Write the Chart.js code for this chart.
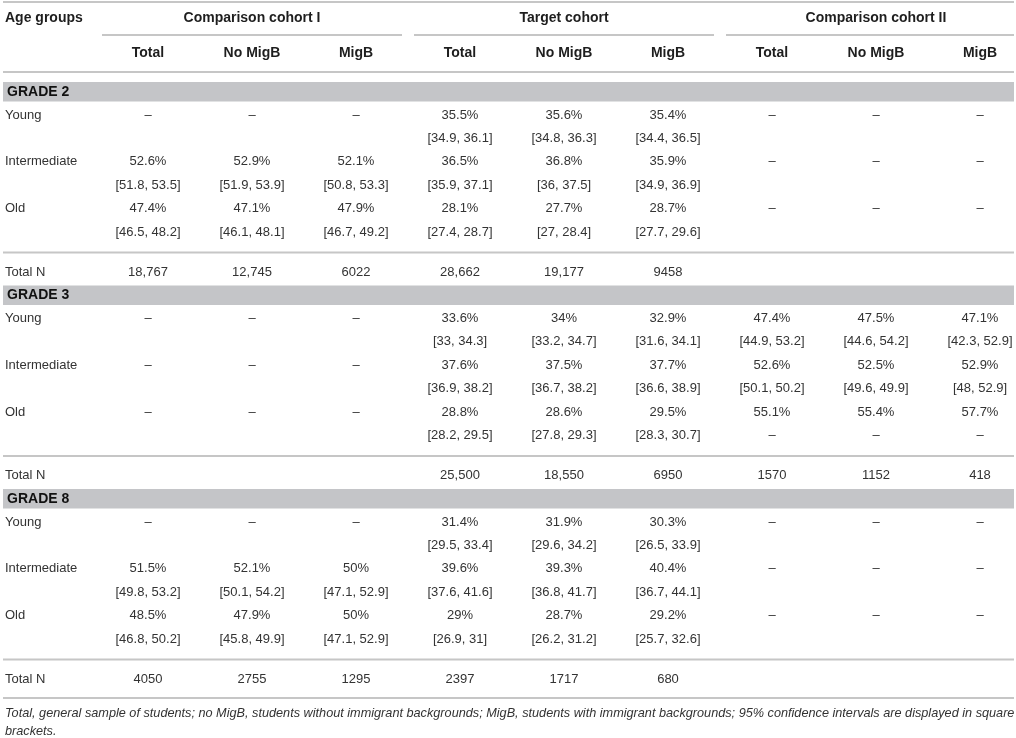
<!DOCTYPE html>
<html>
<head>
<meta charset="utf-8">
<script src="https://cdn.jsdelivr.net/npm/chart.js@4.4.1/dist/chart.umd.min.js"></script>
<style>
  html, body { margin: 0; padding: 0; background: #fff; }
  #wrap { width: 1016px; height: 738px; position: relative; }
</style>
</head>
<body>
<div id="wrap"><canvas id="ageTable"></canvas></div>
<script>
const D = '–';

const cohorts = ['Comparison cohort I', 'Target cohort', 'Comparison cohort II'];
const colHeads = ['Total', 'No MigB', 'MigB'];
const grades = ['GRADE 2', 'GRADE 3', 'GRADE 8'];
const ageGroups = ['Young', 'Intermediate', 'Old'];

// shares (%) per age group, 9 columns: cohort I, target, cohort II x (Total, No MigB, MigB)
const g2Share = [
  [D, D, D, 35.5, 35.6, 35.4, D, D, D],
  [52.6, 52.9, 52.1, 36.5, 36.8, 35.9, D, D, D],
  [47.4, 47.1, 47.9, 28.1, 27.7, 28.7, D, D, D]
];
const g2Ci = [
  [null, null, null, [34.9, 36.1], [34.8, 36.3], [34.4, 36.5], null, null, null],
  [[51.8, 53.5], [51.9, 53.9], [50.8, 53.3], [35.9, 37.1], [36, 37.5], [34.9, 36.9], null, null, null],
  [[46.5, 48.2], [46.1, 48.1], [46.7, 49.2], [27.4, 28.7], [27, 28.4], [27.7, 29.6], null, null, null]
];
const g2N = [18767, 12745, 6022, 28662, 19177, 9458, null, null, null];

const g3Share = [
  [D, D, D, 33.6, 34, 32.9, 47.4, 47.5, 47.1],
  [D, D, D, 37.6, 37.5, 37.7, 52.6, 52.5, 52.9],
  [D, D, D, 28.8, 28.6, 29.5, 55.1, 55.4, 57.7]
];
const g3Ci = [
  [null, null, null, [33, 34.3], [33.2, 34.7], [31.6, 34.1], [44.9, 53.2], [44.6, 54.2], [42.3, 52.9]],
  [null, null, null, [36.9, 38.2], [36.7, 38.2], [36.6, 38.9], [50.1, 50.2], [49.6, 49.9], [48, 52.9]],
  [null, null, null, [28.2, 29.5], [27.8, 29.3], [28.3, 30.7], D, D, D]
];
const g3N = [null, null, null, 25500, 18550, 6950, 1570, 1152, 418];

const g8Share = [
  [D, D, D, 31.4, 31.9, 30.3, D, D, D],
  [51.5, 52.1, 50, 39.6, 39.3, 40.4, D, D, D],
  [48.5, 47.9, 50, 29, 28.7, 29.2, D, D, D]
];
const g8Ci = [
  [null, null, null, [29.5, 33.4], [29.6, 34.2], [26.5, 33.9], null, null, null],
  [[49.8, 53.2], [50.1, 54.2], [47.1, 52.9], [37.6, 41.6], [36.8, 41.7], [36.7, 44.1], null, null, null],
  [[46.8, 50.2], [45.8, 49.9], [47.1, 52.9], [26.9, 31], [26.2, 31.2], [25.7, 32.6], null, null, null]
];
const g8N = [4050, 2755, 1295, 2397, 1717, 680, null, null, null];

const noteLines = [
  'Total, general sample of students; no MigB, students without immigrant backgrounds; MigB, students with immigrant backgrounds; 95% confidence intervals are displayed in square',
  'brackets.'
];

const gradeShare = [g2Share, g3Share, g8Share];
const gradeCi = [g2Ci, g3Ci, g8Ci];
const gradeN = [g2N, g3N, g8N];

// layout (pixels of the 1016 x 738 page)
const W = 1016, H = 738;
const COL0 = 148, COLW = 104;      // first value column centre, column pitch
const LABEL_X = (5 - COL0) / COLW;  // left aligned row labels
const PITCH = 23.4;

const fmtPct = v => (v === D ? D : v + '%');
const fmtCi = v => (v === D ? D : '[' + v[0] + ', ' + v[1] + ']');
const fmtN = v => (v >= 10000 ? v.toLocaleString('en-US') : String(v));

const head = [], sub = [], bandText = [], labels = [], cells = [], note = [];
const rules = [2, 72];
const bands = [];
const groupLineY = 35;

head.push({ x: LABEL_X, y: 18, t: 'Age groups' });
cohorts.forEach((c, k) => head.push({ x: 3 * k + 1, y: 18, t: c }));
for (let k = 0; k < 3; k++) {
  colHeads.forEach((c, j) => sub.push({ x: 3 * k + j, y: 53, t: c }));
}

let bandTop = 82;
grades.forEach((g, gi) => {
  bands.push([bandTop, bandTop + 19.5]);
  bandText.push({ x: LABEL_X + 0.02, y: bandTop + 10, t: g });
  let y = bandTop + 33;
  ageGroups.forEach((a, ai) => {
    labels.push({ x: LABEL_X, y: y, t: a });
    gradeShare[gi][ai].forEach((v, c) => {
      if (v !== null) cells.push({ x: c, y: y, t: fmtPct(v) });
    });
    gradeCi[gi][ai].forEach((v, c) => {
      if (v !== null) cells.push({ x: c, y: y + PITCH, t: fmtCi(v) });
    });
    y += 2 * PITCH;
  });
  const rule = y - PITCH + 20.5;
  rules.push(rule);
  const ny = rule + 19.5;
  labels.push({ x: LABEL_X, y: ny, t: 'Total N' });
  gradeN[gi].forEach((v, c) => {
    if (v !== null) cells.push({ x: c, y: ny, t: fmtN(v) });
  });
  bandTop = ny + 13.5;
  if (gi === grades.length - 1) {
    rules.push(ny + 19);
    noteLines.forEach((t, i) => note.push({ x: LABEL_X, y: ny + 34.5 + i * 18, t: t }));
  }
});

const FONT = '"Liberation Sans", Arial, Helvetica, sans-serif';

const tableDraw = {
  id: 'tableDraw',
  beforeDatasetsDraw(chart) {
    const { ctx, chartArea, scales: { x, y } } = chart;
    ctx.save();
    ctx.fillStyle = '#c4c5c8';
    bands.forEach(b => {
      const t = y.getPixelForValue(b[0]), bt = y.getPixelForValue(b[1]);
      ctx.fillRect(chartArea.left + 3, t, chartArea.right - chartArea.left - 5, bt - t);
    });
    ctx.strokeStyle = '#c6c6c6';
    ctx.lineWidth = 2;
    rules.forEach(r => {
      const py = y.getPixelForValue(r);
      ctx.beginPath();
      ctx.moveTo(chartArea.left + 3, py);
      ctx.lineTo(chartArea.right - 2, py);
      ctx.stroke();
    });
    const gy = y.getPixelForValue(groupLineY);
    for (let k = 0; k < 3; k++) {
      const l = x.getPixelForValue(3 * k - 0.5) + 6;
      const r = Math.min(x.getPixelForValue(3 * k + 2.5) - 6, chartArea.right - 2);
      ctx.beginPath();
      ctx.moveTo(l, gy);
      ctx.lineTo(r, gy);
      ctx.stroke();
    }
    ctx.restore();
  },
  afterDatasetsDraw(chart) {
    const { ctx } = chart;
    ctx.save();
    ctx.textBaseline = 'middle';
    chart.data.datasets.forEach((ds, i) => {
      const meta = chart.getDatasetMeta(i);
      ctx.font = ds.textFont;
      ctx.fillStyle = ds.textColor;
      meta.data.forEach((el, j) => {
        const p = ds.data[j];
        ctx.textAlign = p.x <= LABEL_X + 0.05 ? 'left' : 'center';
        ctx.fillText(p.t, el.x, el.y);
      });
    });
    ctx.restore();
  }
};

const mk = (data, textFont, textColor) => ({
  data, textFont, textColor, pointRadius: 0, pointHoverRadius: 0, showLine: false
});

new Chart(document.getElementById('ageTable'), {
  type: 'scatter',
  data: {
    datasets: [
      mk(head, 'bold 14px ' + FONT, '#1e1e1e'),
      mk(sub, 'bold 14px ' + FONT, '#1e1e1e'),
      mk(bandText, 'bold 14px ' + FONT, '#111'),
      mk(labels, '13px ' + FONT, '#333'),
      mk(cells, '13px ' + FONT, '#333'),
      mk(note, 'italic 12.7px ' + FONT, '#333')
    ]
  },
  options: {
    responsive: true,
    maintainAspectRatio: false,
    animation: false,
    events: [],
    layout: { padding: 0 },
    plugins: { legend: { display: false }, tooltip: { enabled: false } },
    scales: {
      x: { type: 'linear', display: false, min: -COL0 / COLW, max: (W - COL0) / COLW },
      y: { type: 'linear', display: false, reverse: true, min: 0, max: H }
    }
  },
  plugins: [tableDraw]
});
</script>
</body>
</html>
